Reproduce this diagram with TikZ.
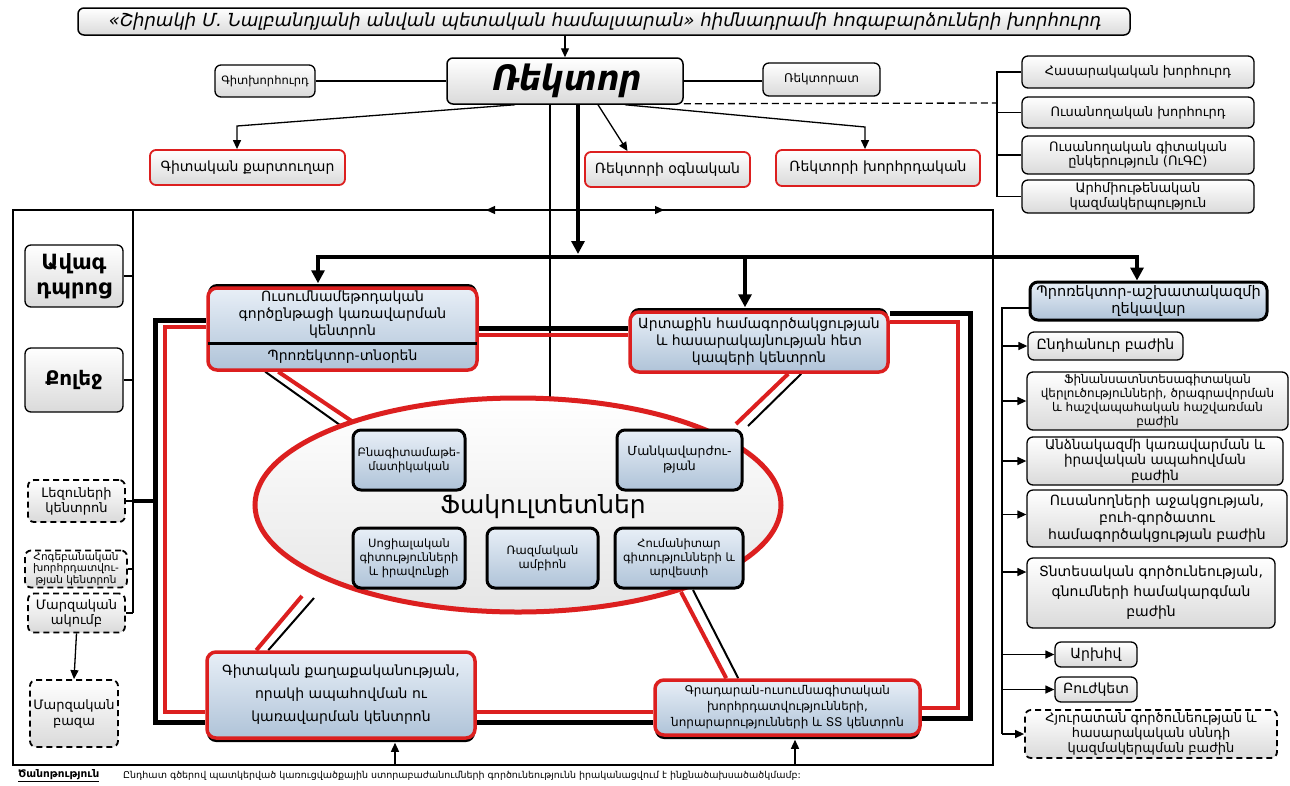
\documentclass[tikz,border=0pt]{standalone}
\usepackage{fontspec}
\setmainfont{DejaVu Sans}
\newfontfamily\slf{DejaVu Sans}[FakeSlant=0.2]
\usetikzlibrary{arrows.meta,shapes.geometric,calc,shadows,backgrounds}
\definecolor{myred}{HTML}{DC1F1F}
\definecolor{bluetop}{HTML}{E8EFF7}
\definecolor{bluebot}{HTML}{AFC3D8}
\definecolor{graybot}{HTML}{DADADA}
\newcommand\fsz[2]{\fontsize{#1}{#2}\selectfont}
\begin{document}
\begin{tikzpicture}[x=1pt,y=-1pt,
 lnA/.style={line width=1.3pt},
 arr/.style={-{Triangle[length=9pt,width=8pt]}},
 tarr/.style={-{Triangle[length=13pt,width=13pt]}, line width=4.5pt},
 gbox/.style={draw, line width=1.3pt, rounded corners=6pt, top color=white, bottom color=graybot, align=center, inner sep=1pt},
 rbox/.style={gbox, draw=myred, line width=1.8pt},
 dbox/.style={gbox, line width=1.8pt, dash pattern=on 6pt off 4pt},
 fbox/.style={draw, line width=3pt, rounded corners=8pt, top color=bluetop, bottom color=bluebot, align=center, inner sep=1pt},
 kbox/.style={draw=myred, line width=3.5pt, rounded corners=9pt, top color=bluetop, bottom color=bluebot, align=center, inner sep=1pt},
 shup/.style={general shadow={fill=black, shadow yshift=4pt}},
 shdn/.style={general shadow={fill=black, shadow yshift=-4pt}},
]
\useasboundingbox (0,0) rectangle (1290,785);

% ---------- nodes ----------
\node[gbox, line width=1.5pt, minimum width=1052pt, minimum height=27pt, font=\slf\fsz{18}{21}] (title) at (604,21.5) {«Շիրակի Մ. Նալբանդյանի անվան պետական համալսարան» հիմնադրամի հոգաբարձուների խորհուրդ};
\node[gbox, line width=1.5pt, minimum width=236pt, minimum height=46pt, font=\slf\bfseries\fsz{35}{38}] (rector) at (565,81) {Ռեկտոր};
\node[gbox, minimum width=100pt, minimum height=32pt, font=\fsz{11.5}{13}] (gitkh) at (265,81) {Գիտխորհուրդ};
\node[gbox, minimum width=117pt, minimum height=33pt, font=\fsz{12}{14}] (rektorat) at (821.5,79.5) {Ռեկտորատ};

\node[gbox, minimum width=232pt, minimum height=32pt, font=\fsz{13}{14.5}] (rt1) at (1138,72) {Հասարակական խորհուրդ};
\node[gbox, minimum width=232pt, minimum height=31pt, font=\fsz{13}{14.5}] (rt2) at (1138,112.5) {Ուսանողական խորհուրդ};
\node[gbox, minimum width=232pt, minimum height=38pt, font=\fsz{13}{14.5}] (rt3) at (1138,155) {Ուսանողական գիտական\\ընկերություն (ՈւԳԸ)};
\node[gbox, minimum width=232pt, minimum height=33pt, font=\fsz{13}{14.5}] (rt4) at (1138,196.5) {Արհմիութենական\\կազմակերպություն};

\node[rbox, minimum width=195pt, minimum height=35pt, font=\fsz{14}{16}] (gq) at (247.5,167.5) {Գիտական քարտուղար};
\node[rbox, minimum width=165pt, minimum height=35pt, font=\fsz{14}{16}] (ogn) at (667.5,169.5) {Ռեկտորի օգնական};
\node[rbox, minimum width=204pt, minimum height=36pt, font=\fsz{14}{16}] (khr) at (878,168) {Ռեկտորի խորհրդական};

% ellipse with faculties
\node[ellipse, draw=myred, line width=5pt, minimum width=526pt, minimum height=214pt, top color=white, bottom color=gray!20, inner sep=0pt] (fac) at (518,505) {};
\node[font=\fsz{25}{29}] (ftit) at (543,507) {Ֆակուլտետներ};
\node[fbox, minimum width=112pt, minimum height=60pt, font=\fsz{11.5}{14}] (f1) at (409,460) {Բնագիտամաթե-\\մատիկական};
\node[fbox, minimum width=125pt, minimum height=60pt, font=\fsz{12.5}{15}] (f2) at (679.5,460) {Մանկավարժու-\\թյան};
\node[fbox, minimum width=112pt, minimum height=60pt, font=\fsz{11.5}{14}] (f3) at (409,558) {Սոցիալական\\գիտությունների\\և իրավունքի};
\node[fbox, minimum width=111pt, minimum height=60pt, font=\fsz{11.5}{14}] (f4) at (542.5,558) {Ռազմական\\ամբիոն};
\node[fbox, minimum width=128pt, minimum height=60pt, font=\fsz{11.5}{14}] (f5) at (679,558) {Հումանիտար\\գիտությունների և\\արվեստի};

% key boxes
\node[kbox, shup, minimum width=269pt, minimum height=82pt] (uch) at (342.5,329) {};
\draw[line width=3pt] ($(uch.west)+(1.5,14)$) -- ($(uch.east)+(-1.5,14)$);
\node[font=\fsz{14}{17}, align=center] (uch1) at (342.5,315) {Ուսումնամեթոդական\\գործընթացի կառավարման\\կենտրոն};
\node[font=\fsz{14}{17}] (uch2) at (342.5,357) {Պրոռեկտոր-տնօրեն};
\node[kbox, shup, minimum width=258pt, minimum height=60pt, font=\fsz{14}{17}] (artq) at (759,342) {Արտաքին համագործակցության\\և հասարակայնության հետ\\կապերի կենտրոն};
\node[kbox, shdn, minimum width=268pt, minimum height=86pt, font=\fsz{14}{23}] (gk) at (341,695) {Գիտական քաղաքականության,\\որակի ապահովման ու\\կառավարման կենտրոն};
\node[kbox, shdn, minimum width=265pt, minimum height=55pt, font=\fsz{12}{16}] (gr) at (787.5,707.5) {Գրադարան-ուսումնագիտական\\խորհրդատվությունների,\\նորարարությունների և ՏՏ կենտրոն};

% right column
\node[fbox, minimum width=237pt, minimum height=38pt, font=\fsz{14.5}{17}] (prr) at (1148.5,301) {Պրոռեկտոր-աշխատակազմի\\ղեկավար};
\node[gbox, minimum width=155pt, minimum height=28pt, font=\fsz{14}{16}] (b1) at (1105.5,346) {Ընդհանուր բաժին};
\node[gbox, minimum width=261pt, minimum height=58pt, font=\fsz{12}{14}] (b2) at (1157.5,401) {Ֆինանսատնտեսագիտական\\վերլուծությունների, ծրագրավորման\\և հաշվապահական հաշվառման\\բաժին};
\node[gbox, minimum width=256pt, minimum height=48pt, font=\fsz{13.5}{15.5}] (b3) at (1155,461) {Անձնակազմի կառավարման և\\իրավական ապահովման\\բաժին};
\node[gbox, minimum width=260pt, minimum height=57pt, font=\fsz{14}{17}] (b4) at (1157,518.5) {Ուսանողների աջակցության,\\բուհ-գործատու\\համագործակցության բաժին};
\node[gbox, minimum width=248pt, minimum height=70pt, font=\fsz{14}{20}] (b5) at (1151,593) {Տնտեսական գործունեության,\\գնումների համակարգման\\բաժին};
\node[gbox, minimum width=82pt, minimum height=25pt, font=\fsz{14}{16}] (b6) at (1096,654.5) {Արխիվ};
\node[gbox, minimum width=82pt, minimum height=25pt, font=\fsz{14}{16}] (b7) at (1096,689.5) {Բուժկետ};
\node[dbox, minimum width=252pt, minimum height=48pt, font=\fsz{13}{15}] (b8) at (1151,734) {Հյուրատան գործունեության և\\հասարակական սննդի\\կազմակերպման բաժին};

% left column
\node[gbox, minimum width=98pt, minimum height=62pt, font=\bfseries\fsz{21}{25}] (l1) at (74,276) {Ավագ\\դպրոց};
\node[gbox, minimum width=98pt, minimum height=64pt, font=\bfseries\fsz{20}{24}] (l2) at (74,380) {Քոլեջ};
\node[dbox, minimum width=97pt, minimum height=42pt, font=\fsz{13}{15}] (l3) at (76.5,501) {Լեզուների\\կենտրոն};
\node[dbox, minimum width=102pt, minimum height=37pt, font=\fsz{10.5}{11.5}] (l4) at (76,569) {Հոգեբանական\\խորհրդատվու-\\թյան կենտրոն};
\node[dbox, minimum width=97pt, minimum height=39pt, font=\fsz{13}{15}] (l5) at (76.5,613) {Մարզական\\ակումբ};
\node[dbox, minimum width=88pt, minimum height=67pt, font=\fsz{13}{16}] (l6) at (74,713.5) {Մարզական\\բազա};

% footnote
\node[anchor=west, font=\bfseries\fsz{10.5}{12}, inner sep=0pt] (nt1) at (18,776) {\underline{Ծանոթություն}};
\node[anchor=west, font=\fsz{9.5}{11}, inner sep=0pt] (nt2) at (123,776) {Ընդհատ գծերով պատկերված կառուցվածքային ստորաբաժանումների գործունեությունն իրականացվում է ինքնածախսածածկմամբ:};

\coordinate (lc) at (133,210);
\coordinate (rc) at (1002,308);
\coordinate (br) at (997,103);

% ---------- background lines ----------
\begin{pgfonlayer}{background}
\fill[white] (0,0) rectangle (1290,785);
\draw[lnA] (13,210) rectangle (993,765);
\draw[lnA, arr] (550,210) -- (486,210);
\draw[lnA, arr] (550,210) -- (664,210);
\draw[lnA] ($(rector.south)+(-15,0)$) -- (550,404);
\draw[lnA] (lc) -- (l5.east -| lc);
\draw[lnA] (l1.east) -- (l1.east -| lc);
\draw[lnA] (l2.east) -- (l2.east -| lc);
\draw[lnA] (l3.east) -- (l3.east -| lc);
\draw[lnA] (l4.east) -- (l4.east -| lc);
\draw[lnA] (l5.east) -- (l5.east -| lc);
\draw[line width=4.5pt] (l3.east -| lc) -- (157,501);
% thick frame
\draw[line width=5pt] ($(uch.west)+(0,-9)$) -- (155,320) -- (155,722) -- ($(gk.west)+(0,27)$);
\draw[myred, line width=4pt] ($(uch.west)+(0,-2)$) -- (165,327) -- (165,712) -- ($(gk.west)+(0,17)$);
\draw[line width=5pt] ($(artq.east)+(0,-29)$) -- (970,313) -- (970,718) -- ($(gr.east)+(0,10.5)$);
\draw[myred, line width=4pt] ($(artq.east)+(0,-20)$) -- (958,322) -- (958,708) -- ($(gr.east)+(0,0.5)$);
\draw[line width=5pt] ($(uch.east)+(0,-1)$) -- ($(artq.west)+(0,-14)$);
\draw[myred, line width=4pt] ($(uch.east)+(0,6)$) -- ($(artq.west)+(0,-7)$);
\draw[line width=5pt] ($(gk.east)+(0,27)$) -- ($(gr.west)+(0,14.5)$);
\draw[myred, line width=4pt] ($(gk.east)+(0,17)$) -- ($(gr.west)+(0,4.5)$);
% diagonals to the ellipse
\draw[line width=2pt] ($(uch.south west)+(59,0)$) -- (347,430);
\draw[myred, line width=4pt] ($(uch.south west)+(72,0)$) -- (359,426);
\draw[myred, line width=4pt] ($(artq.south west)+(160,0)$) -- (736,424);
\draw[line width=2pt] ($(artq.south west)+(173,0)$) -- (748,426);
\draw[myred, line width=4pt] (302,596) -- ($(gk.north west)+(51,0)$);
\draw[line width=2pt] (314,598) -- ($(gk.north west)+(63,0)$);
\draw[myred, line width=4pt] (681,592) -- ($(gr.north west)+(73,0)$);
\draw[line width=2pt] (693,590) -- ($(gr.north west)+(85,0)$);
\end{pgfonlayer}

% ---------- connectors ----------
\draw[lnA, arr] (title.south -| rector.north) -- (rector.north);
\draw[lnA] (gitkh.east) -- (rector.west);
\draw[lnA] (rector.east) -- (rector.east -| rektorat.west);
\draw[lnA, dash pattern=on 7pt off 4pt] ($(rector.south east)+(0,-1)$) -- (br);
\draw[lnA] (rt1.west) -- (rt1.west -| br) -- (rt4.west -| br) -- (rt4.west);
\draw[lnA] (rt2.west -| br) -- (rt2.west);
\draw[lnA] (rt3.west -| br) -- (rt3.west);
\draw[lnA, arr] ($(rector.south)+(-50,0)$) -- (237,126) -- ($(gq.north)+(-10.5,0)$);
\draw[lnA, arr] ($(rector.south)+(33,0)$) -- ($(ogn.north)+(-40,0)$);
\draw[lnA, arr] ($(rector.south)+(60,0)$) -- (865,127) -- ($(khr.north)+(-13,0)$);
\draw[tarr] ($(rector.south)+(13,0)$) -- (578,254);
\draw[line width=4.5pt] (315.75,257) -- (1139.25,257);
\draw[tarr] (318,257) -- ($(uch.north)+(-24.5,-3)$);
\draw[tarr] (745,257) -- ($(artq.north)+(-14,-3)$);
\draw[tarr] (1137,257) -- ($(prr.north)+(-11.5,0)$);
\draw[lnA, arr] (395,765) -- ($(gk.south)+(54,3)$);
\draw[lnA, arr] (795,765) -- ($(gr.south)+(7.5,3)$);
\draw[lnA, arr] (l5.south) -- (l6.north);
% right column branch
\draw[lnA] ($(prr.west)+(0,7)$) -- (rc) -- (b8.west -| rc);
\draw[lnA, arr] (b1.west -| rc) -- (b1.west);
\draw[lnA, arr] (b2.west -| rc) -- (b2.west);
\draw[lnA, arr] (b3.west -| rc) -- (b3.west);
\draw[lnA, arr] ($(b4.west -| rc)+(0,-4)$) -- ($(b4.west)+(0,-4)$);
\draw[lnA, arr] ($(b5.west -| rc)+(0,-21)$) -- ($(b5.west)+(0,-21)$);
\draw[lnA, arr] (b6.west -| rc) -- (b6.west);
\draw[lnA, arr] (b7.west -| rc) -- (b7.west);
\draw[lnA, arr] (b8.west -| rc) -- (b8.west);
\end{tikzpicture}
\end{document}
